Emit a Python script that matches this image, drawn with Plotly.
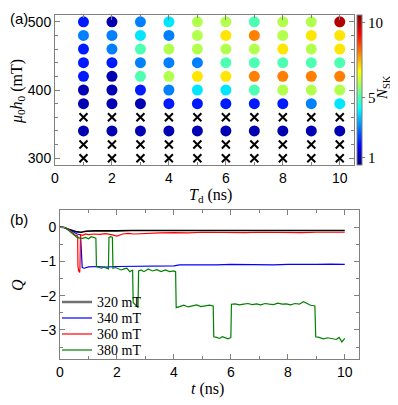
import plotly.graph_objects as go

# ---------------- Panel (a) data ----------------
Td = [1, 2, 3, 4, 5, 6, 7, 8, 9, 10]
fields = [500, 480, 460, 440, 420, 400, 380, 360, 340, 320, 300]
# N_SK per field row (None = no skyrmion, drawn as x)
nsk = {
    500: [2, 1, 3, 4, 6, 6, 5, 6, 6, 10],
    480: [3, 3, 4, 3, 6, 7, 8, 6, 7, 7],
    460: [2, 3, 5, 6, 6, 6, 6, 7, 6, 7],
    440: [2, 2, 3, 3, 3, 5, 5, 5, 5, 5],
    420: [2, 1, 5, 6, 7, 7, 8, 8, 8, 8],
    400: [1, 1, 2, 3, 4, 4, 5, 6, 6, 6],
    380: [1, 1, 1, 2, 2, 2, 2, 2, 3, 4],
    360: [None] * 10,
    340: [1, 1, 1, 1, 1, 1, 1, 1, 1, 1],
    320: [None] * 10,
    300: [None] * 10,
}
cbar_ticks = [1, 5, 10]

# ---------------- Panel (b) data ----------------
q320 = [(0, 0), (0.15, -0.01), (0.3, -0.06), (0.45, -0.11), (0.6, -0.14), (0.75, -0.15),
        (0.9, -0.12), (1.2, -0.11), (1.6, -0.1), (2.0, -0.11), (2.5, -0.1), (3.0, -0.1),
        (3.5, -0.11), (4.0, -0.1), (4.5, -0.1), (5.0, -0.11), (5.5, -0.1), (6.0, -0.1),
        (6.5, -0.1), (7.0, -0.11), (7.5, -0.1), (8.0, -0.1), (8.5, -0.1), (9.0, -0.11),
        (9.5, -0.1), (10.0, -0.1)]
q340 = [(0, 0), (0.15, -0.01), (0.3, -0.06), (0.45, -0.14), (0.6, -0.2), (0.72, -0.22),
        (0.76, -0.8), (0.78, -1.18), (0.85, -1.2), (1.0, -1.16), (1.3, -1.15), (1.6, -1.17),
        (2.0, -1.15), (2.5, -1.14), (3.0, -1.15), (3.5, -1.13), (4.0, -1.13), (4.2, -1.1),
        (4.4, -1.1), (4.6, -1.12), (5.0, -1.11), (5.5, -1.1), (6.0, -1.09), (6.5, -1.1),
        (7.0, -1.09), (7.5, -1.1), (8.0, -1.09), (8.5, -1.1), (9.0, -1.09), (9.5, -1.08),
        (10.0, -1.09)]
q360 = [(0, 0), (0.15, -0.01), (0.3, -0.07), (0.45, -0.18), (0.55, -0.24), (0.62, -0.26),
        (0.63, -1.15), (0.66, -1.28), (0.69, -1.32), (0.7, -1.2), (0.72, -0.22), (0.8, -0.24),
        (0.9, -0.2), (1.0, -0.22), (1.2, -0.2), (1.4, -0.21), (1.6, -0.19), (1.8, -0.22),
        (2.0, -0.26), (2.2, -0.2), (2.4, -0.18), (2.6, -0.2), (2.8, -0.19), (3.0, -0.18),
        (3.5, -0.17), (4.0, -0.16), (4.5, -0.17), (5.0, -0.15), (5.5, -0.16), (6.0, -0.15),
        (6.5, -0.16), (7.0, -0.15), (7.5, -0.16), (8.0, -0.15), (8.5, -0.16), (9.0, -0.15),
        (9.5, -0.16), (10.0, -0.15)]
q380 = [(0, 0), (0.1, 0), (0.2, -0.03), (0.3, -0.1), (0.4, -0.17), (0.5, -0.24), (0.6, -0.3),
        (0.7, -0.32), (0.8, -0.33), (0.9, -0.3), (1.0, -0.34), (1.1, -0.28), (1.2, -0.3),
        (1.26, -0.32), (1.28, -1.15), (1.35, -1.18), (1.45, -1.2), (1.55, -1.17), (1.65, -1.2),
        (1.7, -1.22), (1.72, -0.3), (1.78, -0.28), (1.84, -0.3), (1.86, -1.2), (1.95, -1.18),
        (2.05, -1.22), (2.15, -1.25), (2.25, -1.22), (2.35, -1.2), (2.45, -1.3), (2.55, -1.25),
        (2.57, -2.2), (2.62, -2.25), (2.68, -2.3), (2.74, -2.35), (2.76, -1.28), (2.85, -1.25),
        (2.95, -1.3), (3.1, -1.22), (3.25, -1.28), (3.4, -1.24), (3.55, -1.3), (3.7, -1.25),
        (3.85, -1.3), (4.0, -1.28), (4.06, -1.3), (4.08, -2.35), (4.2, -2.32), (4.35, -2.28),
        (4.5, -2.33), (4.65, -2.3), (4.8, -2.27), (4.95, -2.32), (5.1, -2.3), (5.25, -2.28),
        (5.38, -2.3), (5.4, -3.2), (5.5, -3.22), (5.6, -3.25), (5.7, -3.2), (5.8, -3.23),
        (5.9, -3.26), (6.0, -3.22), (6.02, -2.25), (6.15, -2.24), (6.3, -2.27), (6.45, -2.25),
        (6.6, -2.23), (6.75, -2.26), (6.9, -2.24), (7.05, -2.27), (7.2, -2.23), (7.35, -2.25),
        (7.5, -2.26), (7.65, -2.22), (7.8, -2.25), (7.95, -2.24), (8.1, -2.27), (8.25, -2.23),
        (8.4, -2.25), (8.55, -2.18), (8.65, -2.22), (8.8, -2.28), (8.95, -2.3), (8.98, -3.2),
        (9.1, -3.22), (9.25, -3.26), (9.4, -3.23), (9.55, -3.25), (9.7, -3.28), (9.8, -3.22),
        (9.9, -3.35), (10.0, -3.25)]
legend_names = ["320 mT", "340 mT", "360 mT", "380 mT"]
series_q = [q320, q340, q360, q380]
series_colors = ["black", "#0000ff", "#ff0000", "#008000"]
series_widths = [1.6, 1.2, 1.2, 1.2]

jet = [[0, "#00007F"], [0.125, "#0000FF"], [0.375, "#00FFFF"], [0.625, "#FFFF00"],
       [0.875, "#FF0000"], [1, "#7F0000"]]

# page body adds an 8px offset; the figure fills the rest of the window
OFF = 8
W, H = 398 - OFF, 405 - OFF
def px(x): return (x - OFF) / W
def py(y): return 1 - (y - OFF) / H

fig = go.Figure()

cx, cy, cv, xx, xy = [], [], [], [], []
for f in fields:
    for t, v in zip(Td, nsk[f]):
        if v is None:
            xx.append(t); xy.append(f)
        else:
            cx.append(t); cy.append(f); cv.append(v)

fig.add_trace(go.Scatter(
    x=cx, y=cy, mode="markers", xaxis="x", yaxis="y", showlegend=False,
    marker=dict(size=11, color=cv, colorscale=jet, cmin=0.5, cmax=10.5,
                line=dict(width=0),
                colorbar=dict(x=px(357), xanchor="left", thickness=5, xpad=0, ypad=0,
                              lenmode="pixels", len=150, y=py(15), yanchor="top",
                              outlinewidth=1, outlinecolor="#808080",
                              tickvals=cbar_ticks, ticks="outside", ticklen=3,
                              tickcolor="#808080",
                              tickfont=dict(family="Liberation Serif", size=15, color="black"))),
))
fig.add_trace(go.Scatter(
    x=xx, y=xy, mode="markers", xaxis="x", yaxis="y", showlegend=False,
    marker=dict(symbol="x-thin", size=8, line=dict(width=2, color="black"), color="black"),
))

for name, pts, col, lw in zip(legend_names, series_q, series_colors, series_widths):
    fig.add_trace(go.Scatter(
        x=[p[0] for p in pts], y=[p[1] for p in pts], mode="lines", name=name,
        xaxis="x2", yaxis="y2", line=dict(color=col, width=lw), showlegend=False,
    ))

axcommon = dict(showgrid=False, zeroline=False, showline=True, linecolor="#808080",
                linewidth=1, mirror="ticks", ticks="inside", ticklen=5, tickcolor="#808080",
                tickfont=dict(family="Liberation Sans", size=14, color="black"))

fig.update_layout(
    width=W, height=H, margin=dict(l=0, r=0, t=0, b=0, autoexpand=False),
    paper_bgcolor="white", plot_bgcolor="white",
    xaxis=dict(domain=[px(55), px(354)], range=[0, 10.5], anchor="y", dtick=2,
               minor=dict(dtick=1, ticks="inside", ticklen=3, tickcolor="#808080"), **axcommon),
    yaxis=dict(domain=[py(165), py(15)], range=[290, 510], anchor="x", dtick=100,
               minor=dict(dtick=20, ticks="inside", ticklen=3, tickcolor="#808080"), **axcommon),
    xaxis2=dict(domain=[px(60), px(359)], range=[0, 10.5], anchor="y2", dtick=2,
                minor=dict(dtick=1, ticks="inside", ticklen=3, tickcolor="#808080"), **axcommon),
    yaxis2=dict(domain=[py(359), py(210)], range=[-3.85, 0.5], anchor="x2", dtick=1,
                minor=dict(dtick=0.5, ticks="inside", ticklen=3, tickcolor="#808080"), **axcommon),
    showlegend=False,
)

def label(x, y, text, size=16, family="Liberation Serif", angle=0, xa="center", ya="middle"):
    fig.add_annotation(x=px(x), y=py(y), text=text, showarrow=False, xref="paper",
                       yref="paper", xanchor=xa, yanchor=ya, textangle=angle,
                       font=dict(family=family, size=size, color="black"))

# manual legend (tight row spacing like the reference)
for i, (name, col) in enumerate(zip(legend_names, series_colors)):
    yrow = 302 + 16 * i
    lw = 2.5 if i == 0 else 1.2
    lc = "#707070" if i == 0 else col
    fig.add_shape(type="line", xref="paper", yref="paper", x0=px(62), x1=px(92),
                  y0=py(yrow), y1=py(yrow), line=dict(color=lc, width=lw))
    label(95, yrow, name, size=14, xa="left")

label(8, 8, "(a)", size=15, family="Liberation Sans", xa="left", ya="top")
label(8, 219, "(b)", size=15, family="Liberation Sans", xa="left")
label(18, 92, "<i>μ</i><sub>0</sub><i>h</i><sub>0</sub> (mT)", angle=-90)
label(210, 196, "<i>T</i><sub>d</sub> (ns)")
label(207, 389, "<i>t</i> (ns)")
label(17, 285, "<i>Q</i>", angle=-90)
label(383, 88, "<i>N</i><sub>SK</sub>", size=15, angle=-90)

fig.write_html("out.html")
